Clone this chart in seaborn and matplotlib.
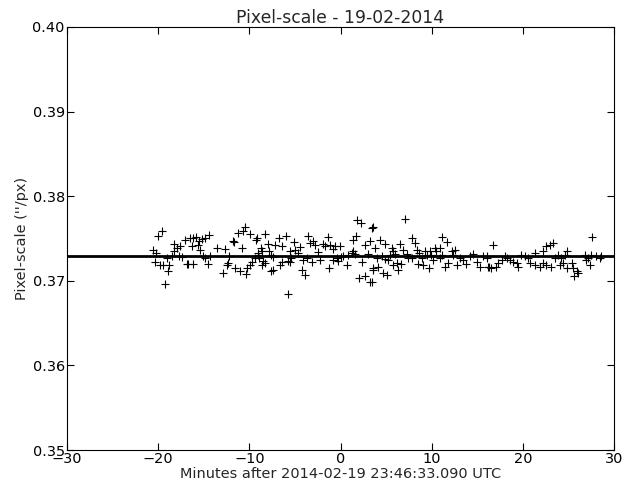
import matplotlib
matplotlib.use("Agg")
import matplotlib.pyplot as plt
import numpy as np
import pandas as pd
import seaborn as sns

# minutes after 2014-02-19 23:46:33.090 UTC
minutes = [
    -19.62, -19.99, -20.54, -20.24, -20.35, -19.80, -19.44, -19.07, -18.78, -18.89,
    -19.25, -18.52, -18.27, -18.23, -17.97, -17.69, -17.42, -17.61, -17.06, -16.87,
    -16.70, -16.15, -16.51, -16.15, -15.86, -15.49, -15.23, -14.87, -14.40, -16.33,
    -15.60, -15.42, -15.05, -14.87, -14.32, -14.51, -13.52, -12.68, -11.84, -11.70,
    -11.22, -10.67, -10.48, -9.93, -9.28, -10.84, -12.20, -12.31, -12.49, -12.86,
    -11.58, -11.03, -10.41, -10.23, -9.93, -9.75, -9.39, -9.02,
    -9.20, -8.73, -8.65, -8.29, -9.02, -8.95, -8.47, -8.29, -8.58, -7.93,
    -7.85, -7.63, -7.38, -7.63, -7.38, -7.13, -6.75, -6.46, -6.64, -6.39,
    -6.02, -5.80, -5.73, -5.55, -5.44, -5.55, -5.08, -5.00, -4.71, -4.45,
    -4.27, -3.90, -4.09, -3.72, -3.54, -3.36, -3.00, -2.81, -3.17, -2.45,
    -2.26, -1.89, -1.71, -1.42, -1.27, -1.16, -0.80, -0.61, -0.07, -0.80,
    -0.43, -0.25, 0.04, 0.29, 0.84, 0.66, 1.21, 1.39, 1.39, 1.75,
    1.58, 1.83, 2.20, 2.31, 2.68, 3.22, 3.04, 3.41, 2.02, 2.68,
    3.22, 3.59,
    7.06, 3.52, 3.77, 4.32, 4.87, 3.59, 4.13, 3.41, 4.68, 5.06,
    3.96, 4.51, 4.87, 5.23, 5.42, 5.60, 5.78, 5.96, 5.78, 6.15,
    6.59, 6.33, 6.51, 6.88, 7.25, 7.43, 7.80, 7.80, 8.16, 8.34,
    8.63, 8.52, 9.07, 9.72, 8.89, 9.25, 9.44, 9.80, 9.98, 10.17,
    10.35, 10.53, 10.90, 11.08, 11.70, 11.08, 10.90, 11.45, 11.81, 12.18,
    12.36, 12.54, 12.80, 13.09, 13.45, 13.82, 14.19, 14.55, 14.92, 15.28,
    15.65, 16.02, 16.19,
    16.02, 16.74, 16.27, 16.49, 17.11, 17.30, 17.66, 18.03, 18.21, 18.57,
    18.94, 19.31, 19.48, 19.85, 20.22, 20.58, 20.77, 21.32, 21.86, 22.23,
    22.59, 23.14, 21.32, 22.23, 22.59, 22.96, 23.32, 23.51, 23.87, 24.24,
    24.61, 24.79, 24.05, 24.42, 24.79, 25.34, 25.52, 25.89, 25.63, 26.07,
    26.80, 27.16, 27.53, 28.07, 28.44, 28.62, 26.97, 27.34, 27.60,
]

pixel_scale = [
    0.37583, 0.37533, 0.37367, 0.37328, 0.37221, 0.37189, 0.37189, 0.37269, 0.37181, 0.37110,
    0.36964, 0.37299, 0.37347, 0.37434, 0.37387, 0.37299, 0.37276, 0.37406, 0.37485, 0.37198,
    0.37198, 0.37198, 0.37505, 0.37505, 0.37512, 0.37465, 0.37497, 0.37505, 0.37536, 0.37414,
    0.37426, 0.37367, 0.37288, 0.37269, 0.37288, 0.37198, 0.37387, 0.37375, 0.37473, 0.37458,
    0.37565, 0.37592, 0.37631, 0.37553, 0.37485, 0.37387, 0.37288, 0.37209, 0.37189, 0.37091,
    0.37150, 0.37110, 0.37079, 0.37150, 0.37189, 0.37228, 0.37269, 0.37328,
    0.37505, 0.37387, 0.37355, 0.37553, 0.37308, 0.37269, 0.37237, 0.37209, 0.37181, 0.37434,
    0.37347, 0.37308, 0.37276, 0.37110, 0.37130, 0.37426, 0.37505, 0.37406, 0.37189, 0.37221,
    0.37524, 0.36843, 0.37237, 0.37221, 0.37269, 0.37347, 0.37458, 0.37367, 0.37328, 0.37394,
    0.37130, 0.37071, 0.37249, 0.37269, 0.37524, 0.37446, 0.37473, 0.37426, 0.37228, 0.37340,
    0.37249, 0.37434, 0.37406, 0.37512, 0.37150, 0.37426, 0.37379, 0.37406, 0.37406, 0.37249,
    0.37269, 0.37237, 0.37276, 0.37288, 0.37308, 0.37181, 0.37328, 0.37347, 0.37485, 0.37524,
    0.37316, 0.37722, 0.37683, 0.37228, 0.37426, 0.37465, 0.37316, 0.37624, 0.37039, 0.37051,
    0.36985, 0.37130,
    0.37734, 0.37631, 0.37387, 0.37485, 0.37434, 0.37150, 0.37169, 0.36985, 0.37091, 0.37063,
    0.37269, 0.37288, 0.37260, 0.37249, 0.37308, 0.37387, 0.37347, 0.37316, 0.37189, 0.37209,
    0.37198, 0.37130, 0.37434, 0.37367, 0.37316, 0.37269, 0.37269, 0.37505, 0.37446, 0.37367,
    0.37328, 0.37198, 0.37189, 0.37157, 0.37269, 0.37347, 0.37308, 0.37347, 0.37308, 0.37249,
    0.37387, 0.37347, 0.37387, 0.37512, 0.37458, 0.37308, 0.37269, 0.37169, 0.37209, 0.37347,
    0.37308, 0.37367, 0.37189, 0.37269, 0.37249, 0.37198, 0.37288, 0.37316, 0.37228, 0.37169,
    0.37288, 0.37269, 0.37169,
    0.37288, 0.37426, 0.37169, 0.37150, 0.37169, 0.37209, 0.37249, 0.37288, 0.37269, 0.37249,
    0.37228, 0.37209, 0.37169, 0.37308, 0.37288, 0.37269, 0.37209, 0.37189, 0.37169, 0.37209,
    0.37189, 0.37169, 0.37328, 0.37347, 0.37406, 0.37426, 0.37446, 0.37269, 0.37308, 0.37269,
    0.37308, 0.37347, 0.37189, 0.37209, 0.37150, 0.37209, 0.37150, 0.37110, 0.37051, 0.37091,
    0.37308, 0.37269, 0.37308, 0.37288, 0.37269, 0.37288, 0.37249, 0.37189, 0.37512,
]

mean_scale = 0.37290
x_ticks = [-30, -20, -10, 0, 10, 20, 30]
y_ticks = [0.35, 0.36, 0.37, 0.38, 0.39, 0.40]

df = pd.DataFrame({"minutes": minutes, "scale": pixel_scale})

sns.set_style("ticks")
plt.rcParams["font.family"] = ["DejaVu Sans"]
plt.rcParams["font.size"] = 13
plt.rcParams["xtick.direction"] = "in"
plt.rcParams["ytick.direction"] = "in"
plt.rcParams["xtick.top"] = True
plt.rcParams["ytick.right"] = True

fig = plt.figure(figsize=(623 / 80, 491 / 80), dpi=80)
ax = fig.add_axes([67 / 623, 41 / 491, 547 / 623, 423 / 491])

sns.scatterplot(data=df, x="minutes", y="scale", marker="+", color="black",
                s=60, linewidth=1.0, ax=ax, legend=False)
ax.axhline(mean_scale, color="black", lw=2.5)

ax.set_xlim(-30, 30)
ax.set_ylim(0.35, 0.40)
ax.set_xticks(x_ticks)
ax.set_yticks(y_ticks)
ax.set_yticklabels([f"{v:.2f}" for v in y_ticks])
ax.tick_params(length=6, width=1, colors="black", labelsize=13, pad=2)
for sp in ax.spines.values():
    sp.set_color("black")
    sp.set_linewidth(1)

ax.set_title("Pixel-scale - 19-02-2014", fontsize=15.5, pad=3)
ax.set_xlabel("Minutes after 2014-02-19 23:46:33.090 UTC", fontsize=13, labelpad=1)
ax.set_ylabel('Pixel-scale (\'\'/px)', fontsize=13, labelpad=3)

fig.savefig("out.png", dpi=80)
